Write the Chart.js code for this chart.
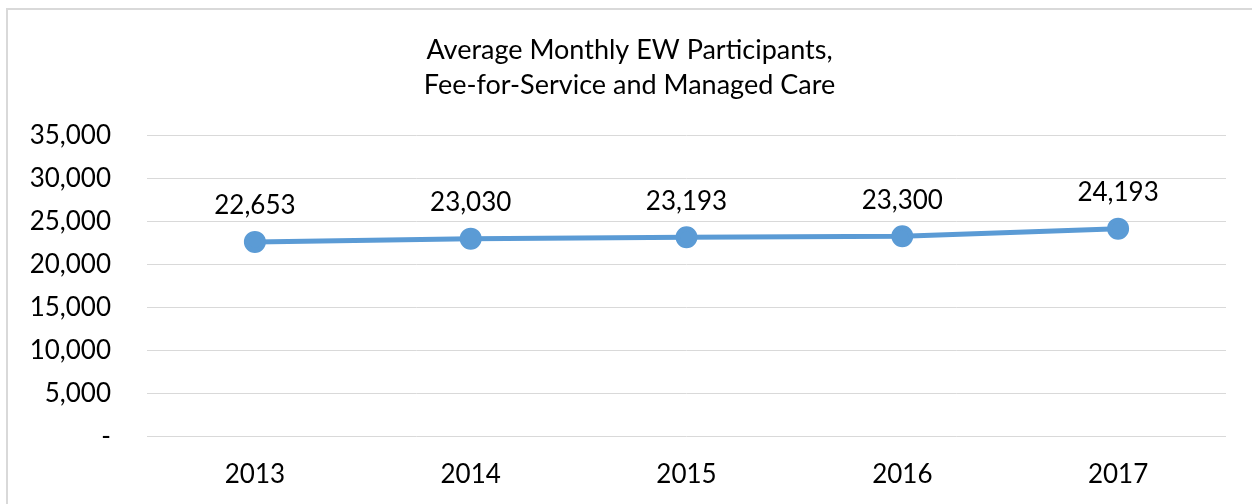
<!DOCTYPE html>
<html>
<head>
<meta charset="utf-8">
<script src="https://cdn.jsdelivr.net/npm/chart.js@4.4.1/dist/chart.umd.min.js"></script>
<style>
    html, body { margin: 0; padding: 0; background: #fff; overflow: hidden; }
    .frame {
        position: absolute; left: 6px; top: 8px; width: 1300px; height: 560px;
        border: 2px solid #d9d9d9; box-sizing: border-box;
    }
    .chart-box { position: absolute; left: 0; top: 0; width: 1252px; height: 504px; }
</style>
</head>
<body>
<div class="frame"></div>
<div class="chart-box"><canvas id="ewChart"></canvas></div>
<script>
// Dados do gráfico
const years = ['2013', '2014', '2015', '2016', '2017'];
const participants = [22653, 23030, 23193, 23300, 24193];
const titleLines = ['Average Monthly EW Participants,', 'Fee-for-Service and Managed Care'];

const fontFamily = 'Lato, "Open Sans", sans-serif';

function formatNumber(v) {
    return v === 0 ? '-' : v.toLocaleString('en-US');
}

// Rótulos de valor acima dos pontos
const valueLabels = {
    id: 'valueLabels',
    afterDatasetsDraw(chart) {
        const ctx = chart.ctx;
        const meta = chart.getDatasetMeta(0);
        ctx.save();
        ctx.font = '26px ' + fontFamily;
        ctx.fillStyle = '#000';
        ctx.textAlign = 'center';
        ctx.textBaseline = 'middle';
        meta.data.forEach((pt, i) => {
            ctx.fillText(formatNumber(participants[i]), pt.x, pt.y - 36);
        });
        ctx.restore();
    }
};

function setupChart() {
    const ctx = document.getElementById('ewChart').getContext('2d');
    new Chart(ctx, {
        type: 'line',
        data: {
            labels: years,
            datasets: [{
                data: participants,
                borderColor: '#5b9bd5',
                backgroundColor: '#5b9bd5',
                borderWidth: 5,
                pointRadius: 8.5,
                pointHoverRadius: 8.5,
                tension: 0,
                fill: false
            }]
        },
        options: {
            responsive: true,
            maintainAspectRatio: false,
            animation: false,
            layout: {
                padding: { left: 7, right: 0, top: 0, bottom: 0 }
            },
            plugins: {
                legend: { display: false },
                tooltip: { enabled: false },
                title: {
                    display: true,
                    text: titleLines,
                    color: '#000',
                    font: { family: fontFamily, size: 27, weight: 'normal', lineHeight: 1.3 },
                    padding: { top: 33, bottom: 32.5 }
                }
            },
            scales: {
                y: {
                    min: 0,
                    max: 35000,
                    afterFit: function(scale) { scale.width = 140; },
                    border: { display: false },
                    grid: { color: '#d9d9d9', lineWidth: 1, drawTicks: false },
                    ticks: {
                        stepSize: 5000,
                        padding: 36,
                        color: '#000',
                        font: { family: fontFamily, size: 26 },
                        callback: function(value) { return formatNumber(value); }
                    }
                },
                // eixo vazio à direita só para reservar a margem
                yRight: {
                    position: 'right',
                    display: true,
                    afterFit: function(scale) { scale.width = 26; },
                    border: { display: false },
                    grid: { display: false, drawTicks: false },
                    ticks: { display: false }
                },
                x: {
                    offset: true,
                    afterFit: function(scale) { scale.height = 67.3; },
                    border: { display: false },
                    grid: { display: false, drawTicks: false },
                    ticks: {
                        padding: 22,
                        color: '#000',
                        font: { family: fontFamily, size: 26 }
                    }
                }
            }
        },
        plugins: [valueLabels]
    });
}

document.addEventListener('DOMContentLoaded', setupChart);
</script>
</body>
</html>
